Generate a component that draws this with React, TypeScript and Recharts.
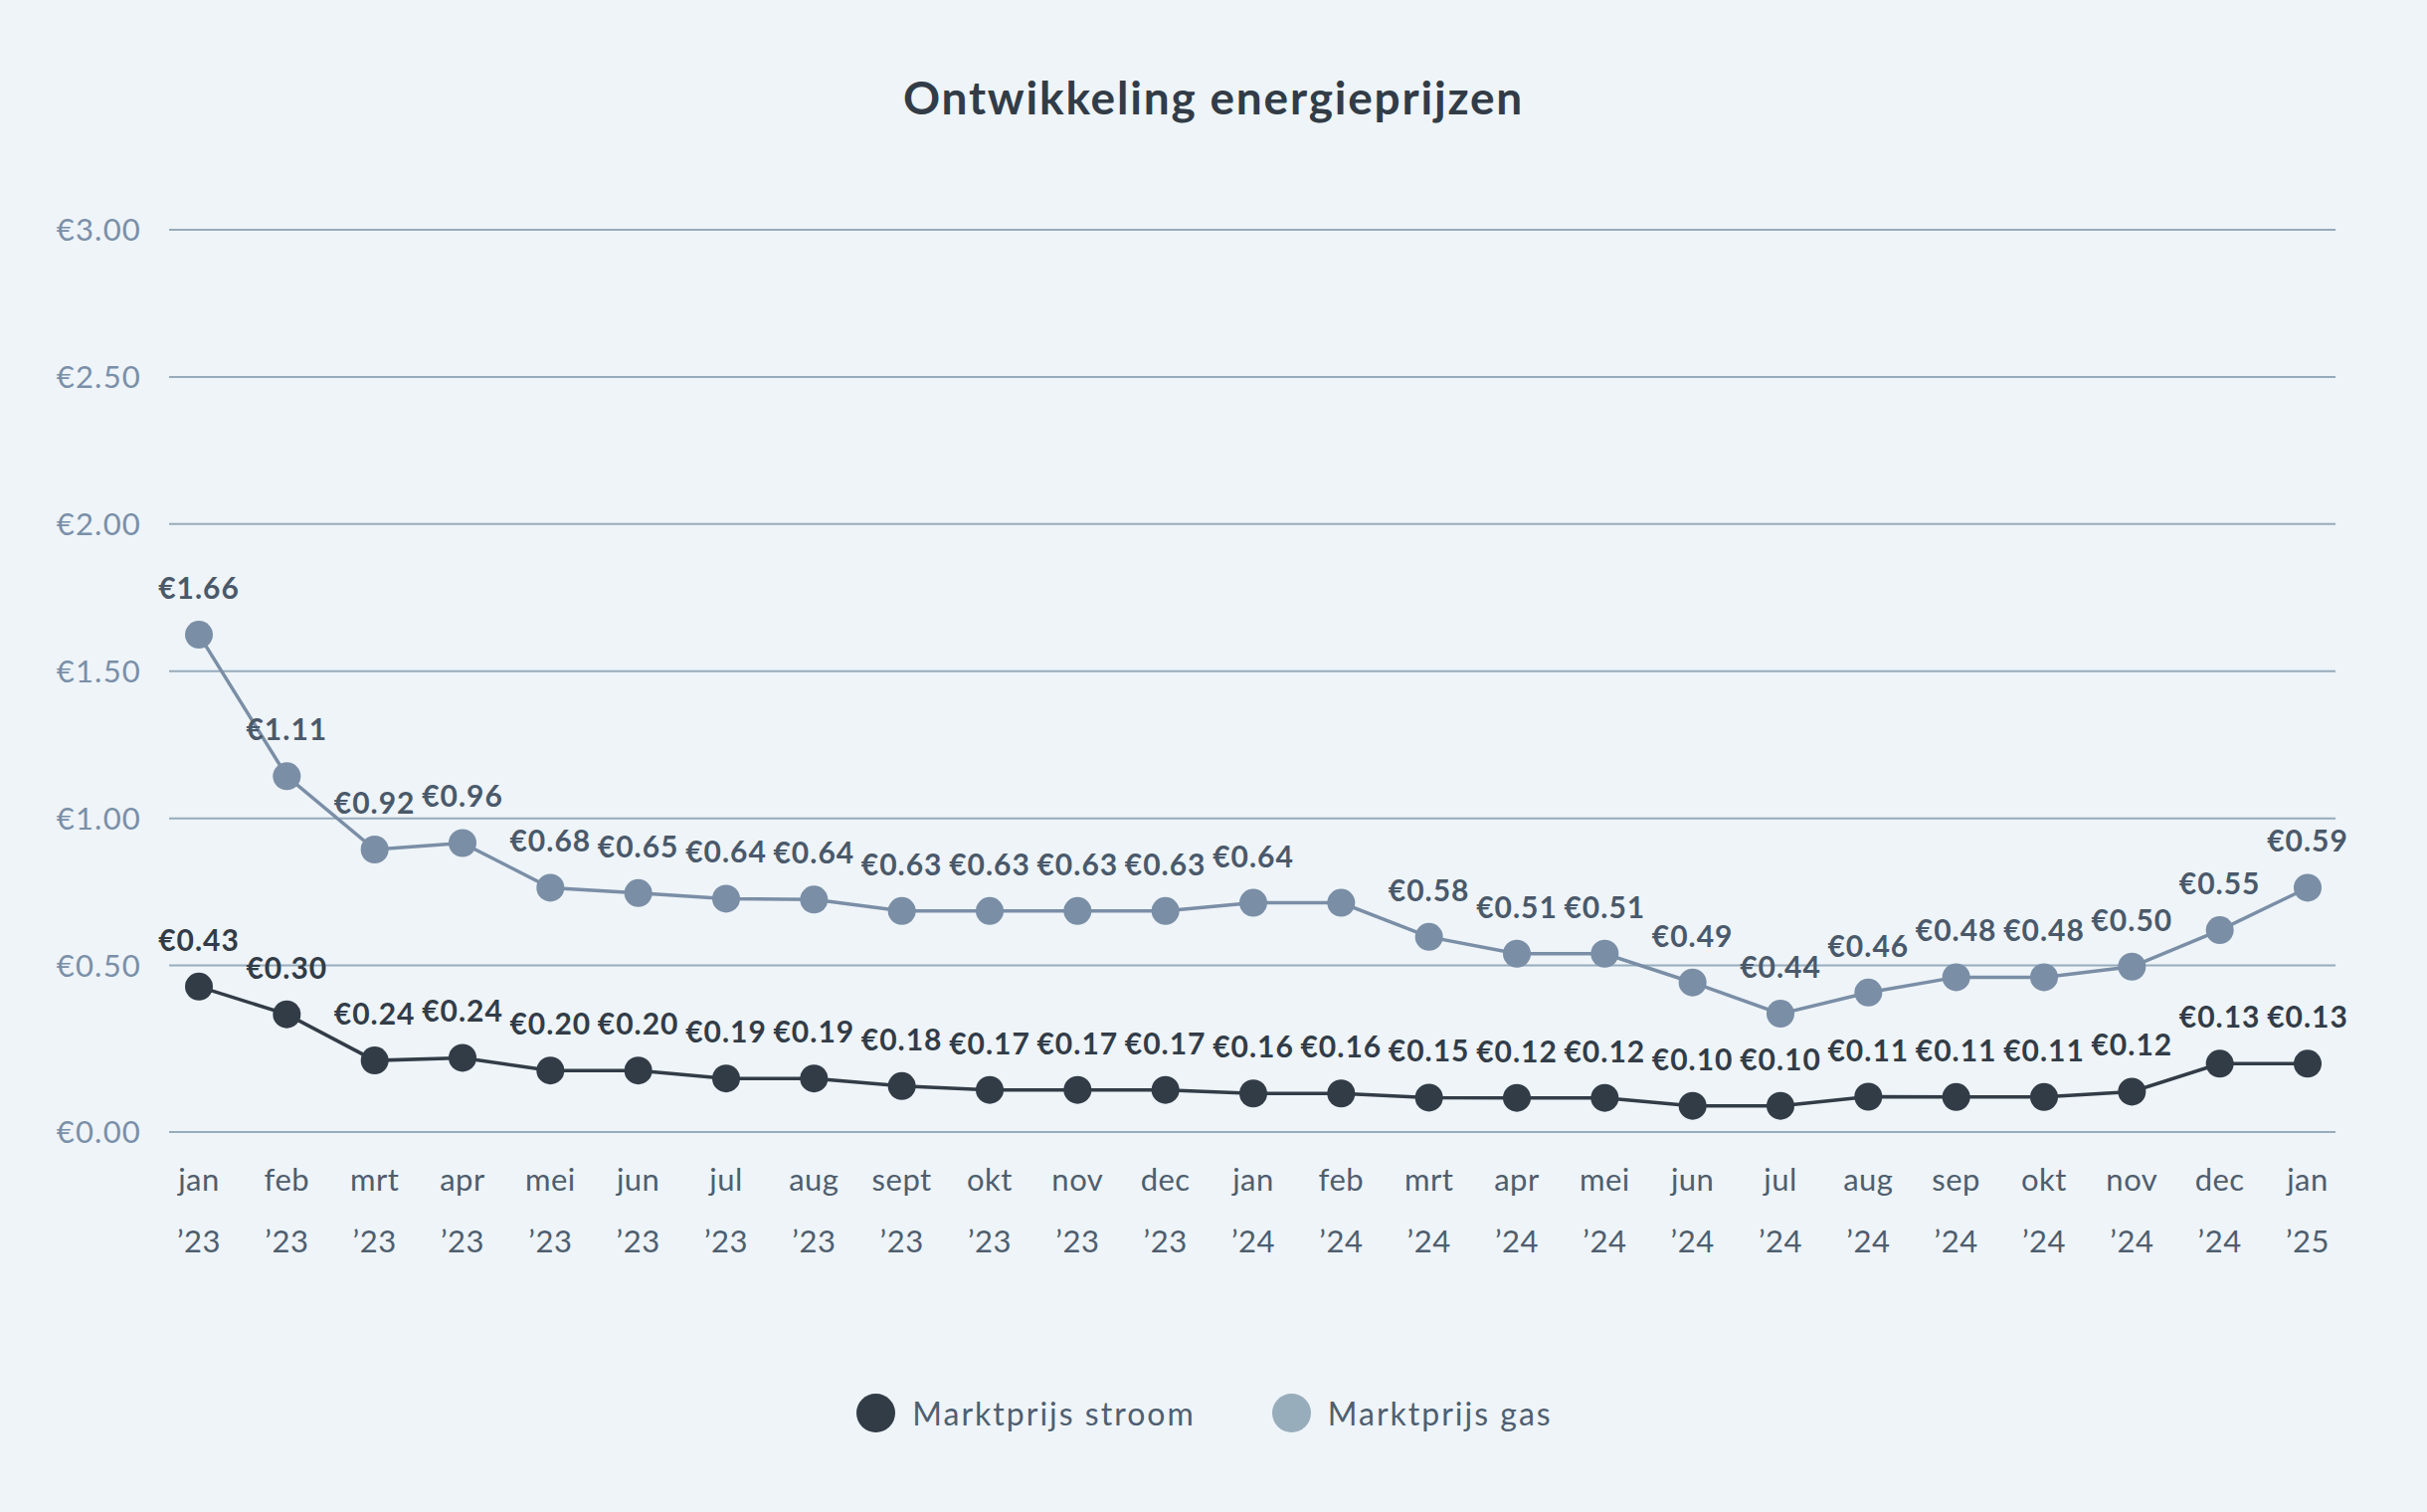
import React from "react";
import { LineChart, Line, XAxis, YAxis, CartesianGrid, LabelList } from "recharts";

const MONTHS = [
  "jan", "feb", "mrt", "apr", "mei", "jun", "jul", "aug", "sept", "okt", "nov", "dec",
  "jan", "feb", "mrt", "apr", "mei", "jun", "jul", "aug", "sep", "okt", "nov", "dec",
  "jan",
];
const YEARS = [
  "’23", "’23", "’23", "’23", "’23", "’23", "’23", "’23", "’23", "’23", "’23", "’23",
  "’24", "’24", "’24", "’24", "’24", "’24", "’24", "’24", "’24", "’24", "’24", "’24",
  "’25",
];

// plotted values
const STROOM = [
  0.428, 0.334, 0.177, 0.186, 0.143, 0.143, 0.116, 0.116, 0.09, 0.077, 0.077, 0.077,
  0.065, 0.065, 0.051, 0.05, 0.05, 0.023, 0.023, 0.054, 0.053, 0.053, 0.071, 0.166,
  0.166,
];
const GAS = [
  1.624, 1.143, 0.894, 0.916, 0.764, 0.746, 0.727, 0.724, 0.685, 0.685, 0.685, 0.685,
  0.713, 0.713, 0.597, 0.54, 0.54, 0.442, 0.336, 0.408, 0.46, 0.46, 0.496, 0.62,
  0.764,
];

// printed labels
const STROOM_LABELS = [
  "€0.43", "€0.30", "€0.24", "€0.24", "€0.20", "€0.20", "€0.19", "€0.19", "€0.18",
  "€0.17", "€0.17", "€0.17", "€0.16", "€0.16", "€0.15", "€0.12", "€0.12", "€0.10",
  "€0.10", "€0.11", "€0.11", "€0.11", "€0.12", "€0.13", "€0.13",
];
const GAS_LABELS = [
  "€1.66", "€1.11", "€0.92", "€0.96", "€0.68", "€0.65", "€0.64", "€0.64", "€0.63",
  "€0.63", "€0.63", "€0.63", "€0.64", "", "€0.58", "€0.51", "€0.51", "€0.49",
  "€0.44", "€0.46", "€0.48", "€0.48", "€0.50", "€0.55", "€0.59",
];

const Y_MIN = -0.066;
const Y_TICKS = [Y_MIN, 0.5, 1, 1.5, 2, 2.5, 3];

const COLORS = {
  bg: "#eef4f8",
  stroom: "#323c47",
  gas: "#7a8ea6",
  gasLegend: "#98adbb",
  grid: "#96abbb",
  yTick: "#7a8fa8",
  xTick: "#4f5e6e",
  stroomLabel: "#323c47",
  gasLabel: "#4a596a",
  title: "#323c47",
  legend: "#4f5f70",
};

const FONT = "Lato, 'Open Sans', sans-serif";

const data = MONTHS.map((m, i) => ({
  key: `${m} ${YEARS[i]}`,
  stroom: STROOM[i],
  gas: GAS[i],
  stroomLabel: STROOM_LABELS[i],
  gasLabel: GAS_LABELS[i],
}));

function MonthTick(props: any) {
  const { x, y, payload } = props;
  const i = payload.index;
  return (
    <text
      x={x}
      y={y}
      textAnchor="middle"
      fill={COLORS.xTick}
      fontSize={31}
      fontFamily={FONT}
      letterSpacing={0.5}
    >
      <tspan x={x} dy={57}>{MONTHS[i]}</tspan>
      <tspan x={x} dy={62}>{YEARS[i]}</tspan>
    </text>
  );
}

const makeLabel = (color: string) => (props: any) => {
  const { x, y, value } = props;
  if (!value) return null;
  return (
    <text
      x={x}
      y={y - 36}
      textAnchor="middle"
      fill={color}
      fontSize={30}
      fontWeight={700}
      fontFamily={FONT}
      letterSpacing={1}
    >
      {value}
    </text>
  );
};

export default function App() {
  return (
    <div
      style={{
        position: "fixed",
        left: 0,
        top: 0,
        width: 2440,
        height: 1520,
        background: COLORS.bg,
        fontFamily: FONT,
      }}
    >
      <div
        style={{
          position: "absolute",
          top: 75,
          left: 0,
          width: 2440,
          textAlign: "center",
          fontSize: 46,
          lineHeight: "46px",
          fontWeight: 700,
          letterSpacing: 1.8,
          color: COLORS.title,
        }}
      >
        Ontwikkeling energieprijzen
      </div>

      <LineChart
        width={2440}
        height={1520}
        data={data}
        margin={{ top: 231, right: 92, bottom: 282, left: 0 }}
      >
        <CartesianGrid vertical={false} stroke={COLORS.grid} strokeWidth={2} />
        <XAxis
          dataKey="key"
          height={100}
          axisLine={false}
          tickLine={false}
          tickSize={0}
          interval={0}
          padding={{ left: 30, right: 28 }}
          tick={<MonthTick />}
        />
        <YAxis
          width={170}
          domain={[Y_MIN, 3]}
          ticks={Y_TICKS}
          axisLine={false}
          tickLine={false}
          tickSize={0}
          tickMargin={28}
          tick={{ fill: COLORS.yTick, fontSize: 31, fontFamily: FONT, letterSpacing: 1.2 }}
          tickFormatter={(v: number) => (v < 0.01 ? "€0.00" : `€${v.toFixed(2)}`)}
        />
        <Line
          dataKey="gas"
          stroke={COLORS.gas}
          strokeWidth={3.5}
          type="linear"
          dot={{ r: 14, fill: COLORS.gas, stroke: "none" }}
          activeDot={false}
          isAnimationActive={false}
        >
          <LabelList dataKey="gasLabel" content={makeLabel(COLORS.gasLabel)} />
        </Line>
        <Line
          dataKey="stroom"
          stroke={COLORS.stroom}
          strokeWidth={3.5}
          type="linear"
          dot={{ r: 14, fill: COLORS.stroom, stroke: "none" }}
          activeDot={false}
          isAnimationActive={false}
        >
          <LabelList dataKey="stroomLabel" content={makeLabel(COLORS.stroomLabel)} />
        </Line>
      </LineChart>

      <div
        style={{
          position: "absolute",
          top: 1400,
          left: 0,
          width: 2440,
          height: 40,
          display: "flex",
          justifyContent: "center",
          alignItems: "center",
          paddingRight: 18,
          boxSizing: "border-box",
          fontSize: 32,
          color: COLORS.legend,
        }}
      >
        {[
          { name: "Marktprijs stroom", color: COLORS.stroom },
          { name: "Marktprijs gas", color: COLORS.gasLegend },
        ].map((item, i) => (
          <div
            key={item.name}
            style={{ display: "flex", alignItems: "center", marginLeft: i ? 77 : 0 }}
          >
            <span
              style={{
                width: 39,
                height: 39,
                borderRadius: "50%",
                background: item.color,
                marginRight: 17,
                display: "inline-block",
              }}
            />
            <span style={{ letterSpacing: 2 }}>{item.name}</span>
          </div>
        ))}
      </div>
    </div>
  );
}
